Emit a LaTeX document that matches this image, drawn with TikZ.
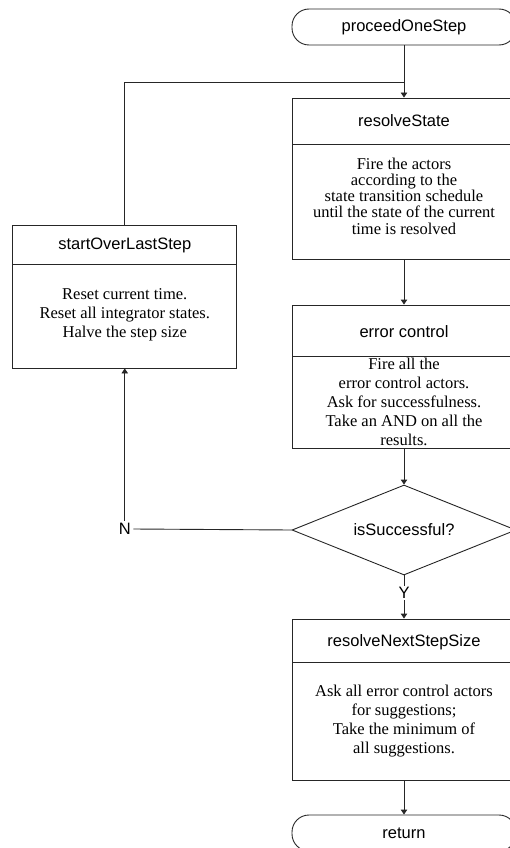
\documentclass[tikz,border=0pt]{standalone}
\usepackage{fontspec}
\setmainfont{Liberation Serif}
\setsansfont{Liberation Sans}
\usetikzlibrary{shapes.geometric,arrows.meta}

\tikzset{
  flow/.style={draw=black!85, line width=0.9pt},
  arr/.style={flow, -{Triangle[length=5pt,width=6.5pt]}},
  term/.style={draw=black!85, line width=0.9pt, rounded corners=17pt,
    minimum width=224pt, minimum height=36pt, inner sep=0pt,
    font=\sffamily\fontsize{16.5}{18}\selectfont},
  stepbox/.style={draw=black!85, line width=0.9pt, minimum width=224pt, inner sep=0pt},
  titletext/.style={inner sep=0pt, font=\sffamily\fontsize{16.5}{18}\selectfont},
  bodytext/.style={inner sep=0pt, align=center, font=\fontsize{16.5}{19}\selectfont},
  decision/.style={draw=black!85, line width=0.9pt, diamond, aspect=2.49,
    minimum width=224pt, minimum height=90pt, inner sep=0pt,
    font=\sffamily\fontsize{16.5}{18}\selectfont},
  lbl/.style={inner sep=1.5pt, font=\sffamily\fontsize{16.5}{18}\selectfont}
}

\begin{document}
\begin{tikzpicture}[x=1pt,y=-1pt]
\useasboundingbox (0,0) rectangle (510,848);

% start terminator
\node[term] (start) at (404,27) {proceedOneStep};

% resolveState
\node[stepbox, minimum height=161pt] (rs) at (404,178.5) {};
\draw[flow] (292,144) -- (516,144);
\node[titletext] (rst) at (404,121) {resolveState};
\node[bodytext, font=\fontsize{16.5}{16.3}\selectfont] (rsb) at (404,196) {Fire the actors\\according to the\\state transition schedule\\until the state of the current\\time is resolved};

% error control
\node[stepbox, minimum height=143pt] (ec) at (404,376.5) {};
\draw[flow] (292,356) -- (516,356);
\node[titletext] (ect) at (404,332) {error control};
\node[bodytext] (ecb) at (404,402) {Fire all the\\error control actors.\\Ask for successfulness.\\Take an AND on all the\\results.};

% decision
\node[decision] (dec) at (404,530) {isSuccessful?};

% resolveNextStepSize
\node[stepbox, minimum height=161pt] (rn) at (404,699.5) {};
\draw[flow] (292,662) -- (516,662);
\node[titletext] (rnt) at (404,642) {resolveNextStepSize};
\node[bodytext] (rnb) at (404,721) {Ask all error control actors\\for suggestions;\\Take the minimum of\\all suggestions.};

% end terminator
\node[term] (ret) at (404,833) {return};

% startOverLastStep
\node[stepbox, minimum height=143pt] (so) at (124.75,296.5) {};
\draw[flow] (12.5,264) -- (237,264);
\node[titletext] (sot) at (124.75,245) {startOverLastStep};
\node[bodytext] (sob) at (124.75,315) {Reset current time.\\Reset all integrator states.\\Halve the step size};

% branch labels
\node[lbl] (Y) at (404,593) {Y};
\node[lbl, inner sep=2.5pt] (N) at (124.75,529) {N};
\coordinate (join) at (404,82);

% connectors
\draw[arr] (start.south) -- (rs.north);
\draw[flow] (so.north) |- (join);
\draw[arr] (rs.south) -- (ec.north);
\draw[arr] (ec.south) -- (dec.north);
\draw[flow] (dec.south) -- (Y.north);
\draw[arr] (Y.south) -- (rn.north);
\draw[flow] (dec.west) -- (N.east);
\draw[arr] (N.north) -- (so.south);
\draw[arr] (rn.south) -- (ret.north);
\end{tikzpicture}
\end{document}
